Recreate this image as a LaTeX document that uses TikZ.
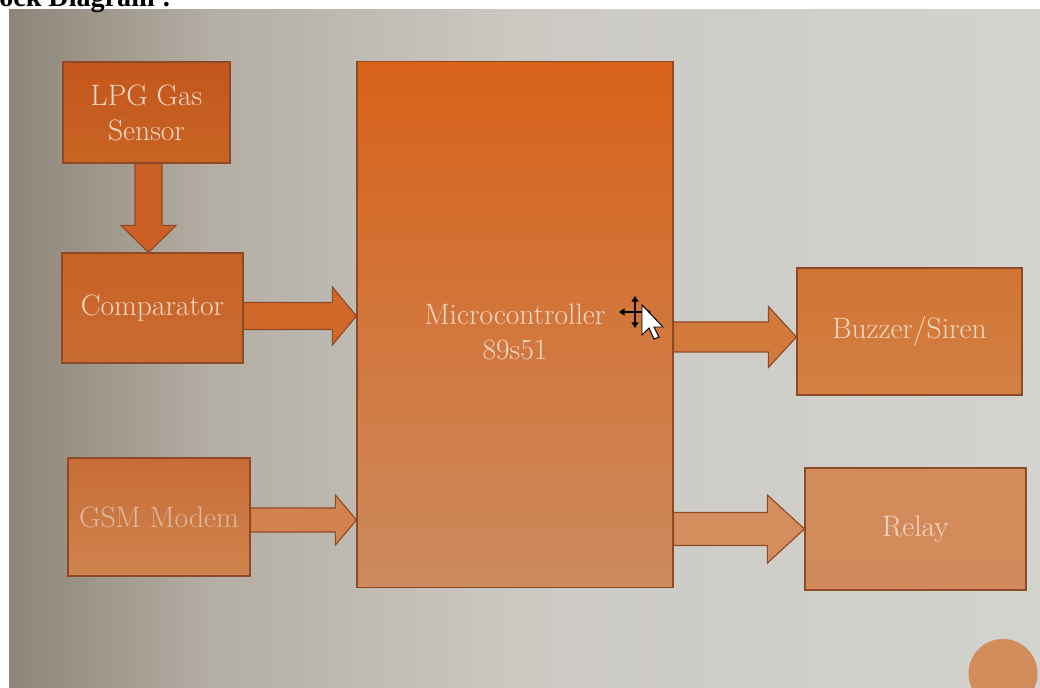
\documentclass[tikz,border=0pt]{standalone}
\usepackage{fontspec}
\newfontfamily\headfont{Liberation Serif}
\usetikzlibrary{calc,arrows.meta}

\definecolor{bgL}{HTML}{8E8579}
\definecolor{bgA}{HTML}{B4AEA4}
\definecolor{bgM}{HTML}{CCC9C3}
\definecolor{bgR}{HTML}{D3D3CF}
\definecolor{edge}{HTML}{8E4A26}
\definecolor{sensTop}{HTML}{C4561C}
\definecolor{sensBot}{HTML}{C86424}
\definecolor{cmpTop}{HTML}{CA6226}
\definecolor{cmpBot}{HTML}{C86C34}
\definecolor{gsmTop}{HTML}{C86C36}
\definecolor{gsmBot}{HTML}{D0844E}
\definecolor{mcuTop}{HTML}{D8621A}
\definecolor{mcuBot}{HTML}{CC8A5E}
\definecolor{buzTop}{HTML}{D07434}
\definecolor{buzBot}{HTML}{D48044}
\definecolor{relTop}{HTML}{D48C5A}
\definecolor{relBot}{HTML}{D28A5C}
\definecolor{arrA}{HTML}{CC6024}
\definecolor{arrB}{HTML}{D0692A}
\definecolor{arrC}{HTML}{D4834E}
\definecolor{arrD}{HTML}{D27A3C}
\definecolor{arrE}{HTML}{D48E5E}
\definecolor{label}{HTML}{F4D8C6}
\definecolor{labelPale}{HTML}{DCB8A2}
\definecolor{dot}{HTML}{D28C5C}

\pgfdeclarehorizontalshading{screen}{100bp}{color(0bp)=(bgL); color(25bp)=(bgL); color(35bp)=(bgA); color(50bp)=(bgM); color(75bp)=(bgR); color(100bp)=(bgR)}

% block arrows: fill, start, tip, half shaft, half head, head length
\newcommand{\flowright}[6]{%
  \filldraw[flow, fill=#1] ($(#2)+(0,-#4)$) -- ($(#3)+(-#6,-#4)$) -- ($(#3)+(-#6,-#5)$) -- (#3)
    -- ($(#3)+(-#6,#5)$) -- ($(#3)+(-#6,#4)$) -- ($(#2)+(0,#4)$) -- cycle;}
\newcommand{\flowdown}[6]{%
  \filldraw[flow, fill=#1] ($(#2)+(-#4,0)$) -- ($(#3)+(-#4,-#6)$) -- ($(#3)+(-#5,-#6)$) -- (#3)
    -- ($(#3)+(#5,-#6)$) -- ($(#3)+(#4,-#6)$) -- ($(#2)+(#4,0)$) -- cycle;}

\begin{document}
\begin{tikzpicture}[x=0.025cm, y=-0.025cm,
  block/.style={draw=edge, line width=0.8pt, inner sep=0pt, text=label,
    font=\fontsize{21}{25}\selectfont, align=center},
  flow/.style={draw=edge, line width=0.8pt}]
\useasboundingbox (0,0) rectangle (1040,688);
\fill[white] (0,0) rectangle (1040,688);

% photo of the screen
\shade[shading=screen] (9,10) rectangle (1040,688);

% heading, cut off at the top
\node[anchor=base west, inner sep=0pt, font=\headfont\bfseries\fontsize{20}{24}\selectfont] (head) at (-1,7) {ock Diagram :};

% Blocks
\node[block, minimum width=4.175cm, minimum height=2.525cm, top color=sensTop, bottom color=sensBot] (sensor) at (146.5,112.5) {LPG Gas\\Sensor};
\node[block, minimum width=4.525cm, minimum height=2.75cm, top color=cmpTop, bottom color=cmpBot] (cmp) at (152.5,308) {Comparator};
\node[block, minimum width=4.55cm, minimum height=2.95cm, top color=gsmTop, bottom color=gsmBot, text=labelPale] (gsm) at (159,517) {GSM Modem};
\node[block, minimum width=7.9cm, minimum height=13.125cm, top color=mcuTop, bottom color=mcuBot,
  label={[text=label, font=\fontsize{21}{25}\selectfont, align=center, yshift=-0.18cm]center:{Microcontroller\\89s51}}] (mcu) at (515,324.5) {};
\node[block, minimum width=5.625cm, minimum height=3.175cm, top color=buzTop, bottom color=buzBot] (buzzer) at (909.5,331.5) {Buzzer/Siren};
\node[block, minimum width=5.525cm, minimum height=3.05cm, top color=relTop, bottom color=relBot] (relay) at (915.5,529) {Relay};

% Arrows
\coordinate (s1) at ($(sensor.south)+(2,0)$);
\coordinate (t1) at (cmp.north -| s1);
\flowdown{arrA}{s1}{t1}{13.5}{27.5}{27}

\coordinate (s2) at ($(cmp.east)+(0,8)$);
\coordinate (t2) at (mcu.west |- s2);
\flowright{arrB}{s2}{t2}{13.5}{29}{24}

\coordinate (s3) at ($(gsm.east)+(0,3)$);
\coordinate (t3) at (mcu.west |- s3);
\flowright{arrC}{s3}{t3}{12}{25}{21}

\coordinate (t4) at ($(buzzer.west)+(0,5.5)$);
\coordinate (s4) at (mcu.east |- t4);
\flowright{arrD}{s4}{t4}{15}{30.5}{28}

\coordinate (t5) at (relay.west);
\coordinate (s5) at (mcu.east |- t5);
\flowright{arrE}{s5}{t5}{16.5}{34}{37}

% slide button, bottom right
\fill[dot] (1003,673.5) circle (34.5);

% mouse cursor
\coordinate (cur) at (635,312);
\draw[line width=1.2pt, -{Triangle[length=4pt,width=5pt]}] (cur) -- ++(0,-16);
\draw[line width=1.2pt, -{Triangle[length=4pt,width=5pt]}] (cur) -- ++(-16,0);
\draw[line width=1.2pt, -{Triangle[length=4pt,width=5pt]}] (cur) -- ++(16,0);
\draw[line width=1.2pt, -{Triangle[length=4pt,width=5pt]}] (cur) -- ++(0,16);
\filldraw[fill=white, draw=black, line width=0.7pt] (642,305) -- ++(0,30) -- ++(7,-7) -- ++(5,11) -- ++(5,-2) -- ++(-5,-10) -- ++(9,0) -- cycle;
\end{tikzpicture}
\end{document}
